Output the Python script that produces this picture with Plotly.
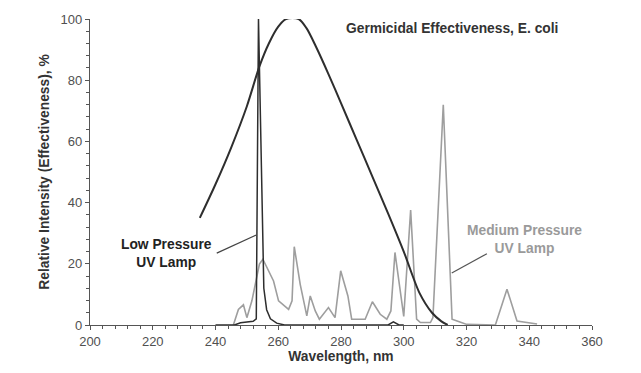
import plotly.graph_objects as go

# Germicidal effectiveness (E. coli)
germ_wl = [235, 240, 245, 250, 254, 257, 260, 262.5, 266.5, 269, 272, 276, 280, 285, 290, 295, 300, 305, 309, 312, 314]
germ_val = [35, 46, 58, 71.5, 84.5, 92, 97.5, 100, 100, 97, 91, 82, 72.5, 60.5, 48.5, 36.5, 24, 10.5, 4, 1.2, 0]

# Low pressure UV lamp
low_wl = [240, 246, 248, 252, 253.0, 253.7, 255.4, 256.3, 257.5, 259.5, 262, 295, 296.7, 298.5, 300]
low_val = [0, 0, 0.7, 1.2, 2, 100, 12, 5, 2, 0.6, 0, 0, 1, 0, 0]

# Medium pressure UV lamp
med_wl = [245.7, 247.3, 248.9, 250, 251.6, 254, 255.1, 258.5, 260.1, 263.3, 264.4, 265.1, 267, 269.1, 270.2,
          271.8, 273.1, 276, 278.1, 279.9, 282.2, 283.4, 287.7, 290, 292.5, 294.6, 295.9, 297.2, 300.0, 302.2,
          304.1, 305.3, 308.5, 309.3, 312.6, 315.4, 317, 320.1, 329.2, 332.9, 336.1, 342.5]
med_val = [0, 5.1, 6.6, 2.4, 7.9, 19.9, 21.5, 14.4, 7.9, 5.1, 7.9, 25.6, 13.3, 3, 9.5,
           4.6, 1.9, 5.7, 2.4, 17.7, 9.5, 1.9, 1.9, 7.6, 3.5, 1.9, 4.6, 23.7, 2.8, 37.6,
           1.9, 0.8, 0.8, 2.4, 72, 1.9, 1.3, 0.2, 0, 11.7, 1.3, 0.3]

x_ticks = [200, 220, 240, 260, 280, 300, 320, 340, 360]
y_ticks = [0, 20, 40, 60, 80, 100]

DARK = "#2e2e2e"
GRAY = "#9e9e9e"
FONT = "Liberation Sans, Arial, sans-serif"
TS = 13.8

fig = go.Figure()
fig.add_trace(go.Scatter(x=med_wl, y=med_val, mode="lines",
                         line=dict(color=GRAY, width=1.6), showlegend=False))
fig.add_trace(go.Scatter(x=low_wl, y=low_val, mode="lines",
                         line=dict(color=DARK, width=1.5), showlegend=False))
fig.add_trace(go.Scatter(x=germ_wl, y=germ_val, mode="lines", line_shape="spline",
                         line=dict(color=DARK, width=2, smoothing=0.8), showlegend=False))

# leader lines
fig.add_shape(type="line", x0=240.4, y0=23.5, x1=253.0, y1=29.4,
              line=dict(color="#444444", width=1.2))
fig.add_shape(type="line", x0=326.5, y0=23.3, x1=315.3, y1=17.0,
              line=dict(color="#555555", width=1.2))

fig.add_annotation(x=(452 - 90) / 502, y=(325 - 28) / 306, xref="paper", yref="paper",
                   xanchor="center", yanchor="middle",
                   text="<b>Germicidal Effectiveness, E. coli</b>",
                   showarrow=False, font=dict(size=TS, color="#333333", family=FONT))
fig.add_annotation(x=224.4, y=23.3, text="<b>Low Pressure<br>UV Lamp</b>", showarrow=False,
                   xanchor="center", yanchor="middle",
                   font=dict(size=TS, color="#222222", family=FONT), align="center")
fig.add_annotation(x=338.6, y=27.8, text="<b>Medium Pressure<br>UV Lamp</b>", showarrow=False,
                   xanchor="center", yanchor="middle",
                   font=dict(size=TS, color="#9a9a9a", family=FONT), align="center")

fig.update_layout(
    width=625, height=357,
    margin=dict(l=82, r=41, t=11, b=40),
    paper_bgcolor="white", plot_bgcolor="white",
    font=dict(family=FONT, color="#444444"),
    xaxis=dict(range=[200, 360], tickvals=x_ticks, showgrid=False, zeroline=False, automargin=False,
               showline=True, linecolor="#555555", linewidth=1.2,
               ticks="outside", ticklen=4, tickcolor="#555555", tickwidth=1.2,
               tickfont=dict(size=13, color="#505050"),
               minor=dict(dtick=4, ticks="outside", ticklen=3, tickcolor="#555555", showgrid=False),
               title=dict(text="<b>Wavelength, nm</b>", font=dict(size=TS, color="#333333"), standoff=3)),
    yaxis=dict(range=[0, 100], tickvals=y_ticks, showgrid=False, zeroline=False, automargin=False,
               showline=True, linecolor="#555555", linewidth=1.2,
               ticks="outside", ticklen=4, tickcolor="#555555", tickwidth=1.2,
               tickfont=dict(size=13, color="#505050"),
               minor=dict(dtick=4, ticks="outside", ticklen=3, tickcolor="#555555", showgrid=False),
               title=dict(text="<b>Relative Intensity (Effectiveness), %</b>", font=dict(size=TS, color="#333333"), standoff=7)),
)

fig.write_html("out.html")
